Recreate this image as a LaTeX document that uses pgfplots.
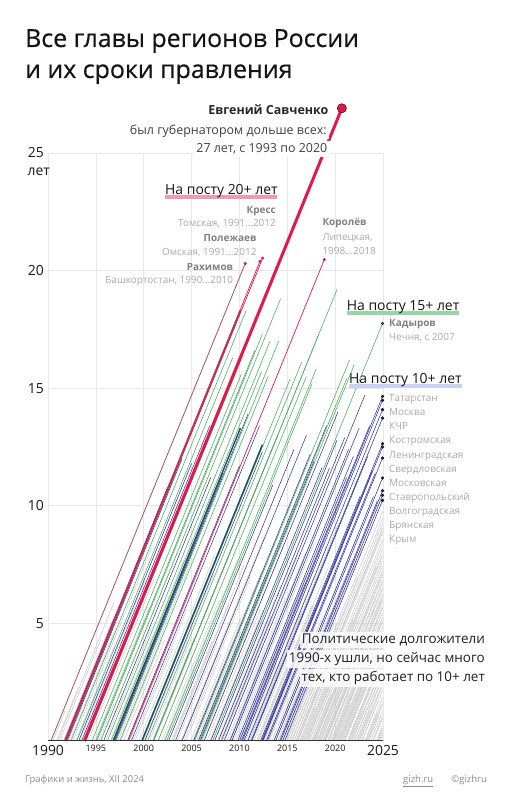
\documentclass[border=0pt]{standalone}
\usepackage{fontspec}
\setmainfont{Open Sans}
\newfontfamily\titlefont{Open Sans}[FakeBold=0.5]
\usepackage{pgfplots}
\pgfplotsset{compat=1.18}
\usepackage{pgfplotstable}

\definecolor{cred}{HTML}{E2184B}
\definecolor{cgreen}{HTML}{52AE65}
\definecolor{cblue}{HTML}{26289A}
\definecolor{cgrey}{HTML}{CBCBCB}
\definecolor{cteal}{HTML}{1D4E5C}
\definecolor{cbrown}{HTML}{7E5E5E}
\definecolor{crakh}{HTML}{A8505A}
\definecolor{cpink}{HTML}{F09AB2}
\definecolor{cmint}{HTML}{96D6A2}
\definecolor{clav}{HTML}{C9D0F2}

% start / end of each term (years); a term is drawn from (s,0) to (e,e-s)
\pgfplotstableread{
s e
1990.5 1991.8
1990.9 1993.2
1991.0 1996.9
1991.2 1995.5
1991.6 1996.8
1991.7 1993.9
1991.7 1997.0
1991.8 1996.1
1991.8 1994.5
1991.9 1996.9
1991.9 1999.2
1991.9 1998.0
1992.0 1996.8
1992.1 1993.5
1992.3 1997.1
1992.6 2000.8
1992.9 1996.9
1993.0 1995.4
1993.3 2000.1
1993.6 1996.9
1993.8 1997.0
1994.2 2001.1
1994.9 2000.6
1995.3 1996.9
1995.5 2003.5
1996.0 2000.8
1996.5 2004.2
1996.8 2000.9
1996.8 2004.9
1996.9 2001.0
1996.9 2005.1
1996.9 2002.5
1996.9 2003.4
1997.0 2001.1
1997.0 2005.8
1997.1 2000.9
1997.3 2004.9
1997.6 2001.9
1997.9 2002.2
1998.3 2002.5
1998.5 2006.0
1998.9 2004.5
1999.1 2003.0
1999.5 2007.4
1999.8 2004.0
2000.1 2004.1
2000.2 2007.3
2000.6 2005.0
2000.9 2005.3
2001.0 2009.4
2001.1 2004.9
2001.5 2005.5
2001.9 2007.9
2002.1 2009.8
2002.4 2005.9
2002.9 2007.1
2003.0 2010.5
2003.1 2008.9
2003.5 2007.7
2003.9 2012.6
2004.0 2009.0
2004.2 2011.2
2004.4 2008.1
2004.9 2010.1
2005.1 2012.3
2005.2 2009.5
2005.3 2014.1
2005.5 2010.2
2005.7 2012.9
2005.8 2009.7
2005.9 2013.2
2006.0 2010.3
2006.1 2011.1
2006.3 2014.5
2006.6 2012.2
2006.9 2012.5
2007.0 2012.1
2007.2 2015.8
2007.4 2012.5
2007.7 2014.3
2007.8 2011.9
2008.0 2013.3
2008.2 2016.1
2008.4 2013.2
2008.7 2014.8
2008.9 2016.9
2009.0 2017.2
2009.1 2012.4
2009.2 2014.3
2009.4 2017.8
2009.6 2013.1
2009.9 2017.0
2010.0 2015.1
2010.1 2016.8
2010.2 2018.7
2010.3 2014.3
2010.5 2017.8
2010.6 2013.9
2010.8 2019.1
2010.9 2016.3
2011.0 2016.5
2011.1 2020.3
2011.2 2018.2
2011.5 2015.8
2011.8 2017.6
2011.9 2019.3
2012.0 2017.8
2012.2 2014.6
2012.3 2017.9
2012.4 2019.5
2012.5 2020.8
2012.6 2016.7
2012.8 2018.2
2013.0 2020.1
2013.1 2017.8
2013.4 2018.6
2013.6 2022.0
2013.8 2016.5
2014.0 2019.4
2014.1 2021.8
2014.3 2018.4
2014.5 2020.6
2014.6 2022.8
2014.8 2017.5
2014.9 2019.9
2015.0 2018.9
2015.2 2020.2
2015.4 2022.4
2015.7 2017.8
2015.9 2023.4
2016.1 2019.2
2016.3 2020.8
2016.5 2017.9
2016.7 2021.9
2016.9 2024.3
2017.1 2020.1
2017.3 2022.5
2017.6 2019.6
2017.8 2023.6
2017.9 2021.2
2018.1 2020.6
2018.3 2022.9
2018.5 2024.1
2018.7 2020.5
2018.9 2023.1
2019.0 2021.9
2019.3 2024.4
2019.6 2022.1
2019.8 2023.8
2020.0 2021.6
2020.2 2024.2
2020.5 2022.8
2020.7 2024.6
2021.0 2023.2
2021.3 2024.3
2021.6 2022.9
2022.0 2024.4
2022.4 2023.7
2022.8 2024.5
2023.2 2024.4
2023.5 2024.6
2015.2 2024.95
2015.5 2024.95
2015.7 2024.95
2015.9 2024.95
2016.0 2024.95
2016.1 2024.95
2016.4 2024.95
2016.6 2024.95
2016.8 2024.95
2017.0 2024.95
2017.1 2024.95
2017.3 2024.95
2017.5 2024.95
2017.7 2024.95
2017.8 2024.95
2017.9 2024.95
2018.1 2024.95
2018.2 2024.95
2018.4 2024.95
2018.5 2024.95
2018.7 2024.95
2018.8 2024.95
2018.9 2024.95
2019.0 2024.95
2019.2 2024.95
2019.3 2024.95
2019.5 2024.95
2019.7 2024.95
2019.8 2024.95
2019.9 2024.95
2020.1 2024.95
2020.3 2024.95
2020.4 2024.95
2020.5 2024.95
2020.6 2024.95
2020.8 2024.95
2020.9 2024.95
2021.0 2024.95
2021.3 2024.95
2021.4 2024.95
2021.5 2024.95
2021.7 2024.95
2021.8 2024.95
2022.0 2024.95
2022.2 2024.95
2022.3 2024.95
2022.5 2024.95
2022.6 2024.95
2022.8 2024.95
2023.1 2024.95
2023.3 2024.95
2023.4 2024.95
2023.7 2024.95
2023.9 2024.95
2024.0 2024.95
2024.3 2024.95
2024.4 2024.95
2024.5 2024.95
2024.6 2024.95
2024.7 2024.95
}\greylines

\pgfplotstableread{
s e
1991.7 2002.5
1992.0 2004.0
1993.2 2005.0
1993.5 2006.9
1995.8 2007.0
1996.9 2008.3
1997.0 2010.9
1998.3 2010.0
1998.7 2012.1
2000.1 2012.4
2001.0 2014.0
2002.6 2013.5
2003.3 2015.7
2004.0 2017.0
2005.2 2017.4
2005.7 2019.1
2005.9 2017.8
2006.3 2020.3
2007.0 2018.6
2007.4 2020.2
2007.8 2019.4
2008.1 2021.0
2008.4 2023.1
2009.0 2021.4
2009.2 2022.5
2009.8 2021.9
2010.0 2021.2
2010.2 2023.6
2011.3 2023.4
2012.2 2022.6
2012.4 2023.9
2012.8 2024.2
2013.6 2024.0
2014.2 2024.4
2010.30 2024.95
2010.47 2024.95
2010.86 2024.95
2011.22 2024.95
2012.31 2024.95
2012.45 2024.95
2012.92 2024.95
2013.77 2024.95
2014.31 2024.95
2014.50 2024.95
2014.72 2024.95
}\bluelines

\pgfplotstableread{
s e
1991.85 2010.15
1992.4 2010.7
1993.0 2009.3
1993.95 2010.3
1994.6 2010.2
1995.0 2011.6
1995.1 2012.4
1995.5 2014.3
1996.2 2013.2
1996.6 2012.3
1997.1 2014.1
1997.5 2013.0
1999.9 2015.3
2000.4 2016.5
2001.0 2020.2
2001.0 2018.3
2001.5 2017.0
2002.2 2018.0
2002.4 2017.6
2005.3 2021.5
2005.8 2021.2
2006.0 2022.0
2007.2 2024.95
}\greenlines

\pgfplotstableread{
s e
1996.8 2010.1
1999.8 2012.4
}\teallines

\pgfplotstableread{
s e
1991.8 2010.1
}\brownlines

\pgfplotstableread{
s e
1991.9 2012.43
1991.75 2012.15
1998.4 2018.87
}\redlines

\pgfplotstableread{
s e
1990.3 2010.6
}\rakhline

\pgfplotstableread{
s e
1993.8 2020.7
}\savline

\pgfplotsset{seg/.style={quiver={u=\thisrow{e}-\thisrow{s},v=\thisrow{e}-\thisrow{s}}, mark=none}}

\begin{document}
\begin{tikzpicture}[x=1bp,y=1bp]
\useasboundingbox (0,0) rectangle (513,800);

\begin{axis}[
  at={(48bp,59bp)}, anchor=south west,
  scale only axis, width=335bp, height=588bp,
  xmin=1990, xmax=2025, ymin=0, ymax=25,
  clip=false,
  axis line style={draw=none},
  tick style={draw=none},
  major tick length=0pt,
  grid=major, grid style={draw=black!9, line width=0.6bp},
  xtick={1990,1995,2000,2005,2010,2015,2020,2025},
  xticklabels={{\fontsize{14}{14}\selectfont 1990},1995,2000,2005,2010,2015,2020,{\fontsize{14}{14}\selectfont 2025}},
  ytick={5,10,15,20,25},
  yticklabels={5,10,15,20,25},
  xticklabel style={anchor=north, inner sep=0pt, yshift=-4bp, font=\fontsize{9}{9}\selectfont, text=black!90},
  yticklabel style={anchor=east, inner sep=0pt, xshift=-4bp, font=\fontsize{14}{14}\selectfont, text=black!90},
  /pgf/number format/assume math mode=true,
]
\addplot[seg, cgrey, line width=0.55bp] table[x=s, y expr=0] {\greylines};
\addplot[seg, cblue, line width=0.5bp] table[x=s, y expr=0] {\bluelines};
\addplot[seg, cgreen, line width=0.6bp] table[x=s, y expr=0] {\greenlines};
\addplot[seg, cteal, line width=1.4bp] table[x=s, y expr=0] {\teallines};
\addplot[seg, cbrown, line width=1.8bp] table[x=s, y expr=0] {\brownlines};
\addplot[seg, cred, line width=0.7bp] table[x=s, y expr=0] {\redlines};
\addplot[seg, crakh, line width=0.8bp] table[x=s, y expr=0] {\rakhline};
\addplot[seg, cred, line width=3bp] table[x=s, y expr=0] {\savline};
% end points
\addplot[only marks, mark=*, mark size=1.3bp, cred, mark options={draw=none, fill=cred}]
  coordinates {(2010.6,20.3) (2012.43,20.53) (2012.15,20.4) (2018.87,20.47)};
\addplot[only marks, mark=*, mark size=1.3bp, mark options={draw=none, fill=cgreen}]
  coordinates {(2024.95,17.75)};
\addplot[only marks, mark=*, mark size=1.4bp, mark options={draw=none, fill=cblue}]
  coordinates {(2024.95,14.65) (2024.95,14.48) (2024.95,14.09) (2024.95,13.73)
  (2024.95,12.64) (2024.95,12.50) (2024.95,12.03) (2024.95,11.18) (2024.95,10.64)
  (2024.95,10.45) (2024.95,10.23)};
\addplot[only marks, mark=*, mark size=4.6bp, mark options={draw=none, fill=cred}]
  coordinates {(2020.7,26.9)};
\draw[black!80, line width=1bp] (axis cs:1990,0) -- (axis cs:2025,0);
\end{axis}

% y unit
\node[anchor=west, inner sep=0pt, font=\fontsize{14}{14}\selectfont, text=black!90] at (27.5,628) {лет};

% title
\node[anchor=base west, inner sep=0pt, font=\titlefont\fontsize{25}{25}\selectfont, text=black!92] at (25,753) {Все главы регионов России};
\node[anchor=base west, inner sep=0pt, font=\titlefont\fontsize{25}{25}\selectfont, text=black!92] at (25,722) {и их сроки правления};

% Savchenko
\node[anchor=base east, inner sep=1.5bp, font=\bfseries\fontsize{12.5}{12.5}\selectfont, text=black!85] at (330,685) {Евгений Савченко};
\node[anchor=base east, inner sep=2bp, fill=white, font=\fontsize{12.5}{12.5}\selectfont, text=black!75] at (329,665.5) {был губернатором дольше всех:};
\node[anchor=base east, inner sep=2.5bp, fill=white, font=\fontsize{12.5}{12.5}\selectfont, text=black!75] at (330,647) {27 лет, с 1993 по 2020};

% 20+
\fill[cpink] (165,600.5) rectangle (277,604.5);
\node[anchor=base west, inner sep=0pt, font=\fontsize{14}{14}\selectfont, text=black!92] at (165,605) {На посту 20+ лет};
\node[anchor=base east, inner sep=0pt, font=\bfseries\fontsize{10}{10}\selectfont, text=black!50] at (276,586.7) {Кресс};
\node[anchor=base east, inner sep=0pt, font=\fontsize{10}{10}\selectfont, text=black!33] at (276,573.3) {Томская, 1991…2012};
\node[anchor=base east, inner sep=0pt, font=\bfseries\fontsize{10}{10}\selectfont, text=black!50] at (256.7,558.3) {Полежаев};
\node[anchor=base east, inner sep=0pt, font=\fontsize{10}{10}\selectfont, text=black!33] at (256.7,544) {Омская, 1991…2012};
\node[anchor=base east, inner sep=0pt, font=\bfseries\fontsize{10}{10}\selectfont, text=black!50] at (233.3,529.3) {Рахимов};
\node[anchor=base east, inner sep=0pt, font=\fontsize{10}{10}\selectfont, text=black!33] at (233.3,516) {Башкортостан, 1990…2010};
\node[anchor=base west, inner sep=0pt, font=\bfseries\fontsize{10}{10}\selectfont, text=black!50] at (322.3,574) {Королёв};
\node[anchor=base west, inner sep=0pt, font=\fontsize{10}{10}\selectfont, text=black!33] at (322.3,559.5) {Липецкая,};
\node[anchor=base west, inner sep=0pt, font=\fontsize{10}{10}\selectfont, text=black!33] at (322.3,545.5) {1998…2018};

% 15+
\fill[cmint] (346.7,485) rectangle (459,488.6);
\node[anchor=base west, inner sep=0pt, font=\fontsize{14}{14}\selectfont, text=black!92] at (346.7,489.3) {На посту 15+ лет};
\node[anchor=base west, inner sep=0pt, font=\bfseries\fontsize{10}{10}\selectfont, text=black!50] at (389,473.3) {Кадыров};
\node[anchor=base west, inner sep=0pt, font=\fontsize{10}{10}\selectfont, text=black!33] at (389,459.3) {Чечня, с 2007};

% 10+
\fill[clav] (349,412.3) rectangle (461.7,416);
\node[anchor=base west, inner sep=0pt, font=\fontsize{14}{14}\selectfont, text=black!92] at (349,416.2) {На посту 10+ лет};
\foreach \t [count=\i from 0] in {Татарстан,Москва,КЧР,Костромская,Ленинградская,Свердловская,Московская,Ставропольский,Волгоградская,Брянская,Крым}{
  \node[anchor=base west, inner sep=0pt, font=\fontsize{10}{10}\selectfont, text=black!33] at (389,398.3-14.1*\i) {\t};
}

% bottom note
\node[anchor=base east, inner sep=2bp, fill=white, fill opacity=0.85, text opacity=1, font=\fontsize{13.5}{13.5}\selectfont, text=black!88] at (487,156.7) {Политические долгожители};
\node[anchor=base east, inner sep=2bp, fill=white, fill opacity=0.85, text opacity=1, font=\fontsize{13.5}{13.5}\selectfont, text=black!88] at (487,137.7) {1990-х ушли, но сейчас много};
\node[anchor=base east, inner sep=2bp, fill=white, fill opacity=0.85, text opacity=1, font=\fontsize{13.5}{13.5}\selectfont, text=black!88] at (487,118.3) {тех, кто работает по 10+ лет};

% footer
\node[anchor=base west, inner sep=0pt, font=\fontsize{9.5}{9.5}\selectfont, text=black!45] at (25,17) {Графики и жизнь, XII 2024};
\node[anchor=base west, inner sep=0pt, font=\fontsize{9.5}{9.5}\selectfont, text=black!45] at (403,17) {\underline{gizh.ru}};
\node[anchor=base east, inner sep=0pt, font=\fontsize{9.5}{9.5}\selectfont, text=black!45] at (487,17) {©gizhru};
\end{tikzpicture}
\end{document}
